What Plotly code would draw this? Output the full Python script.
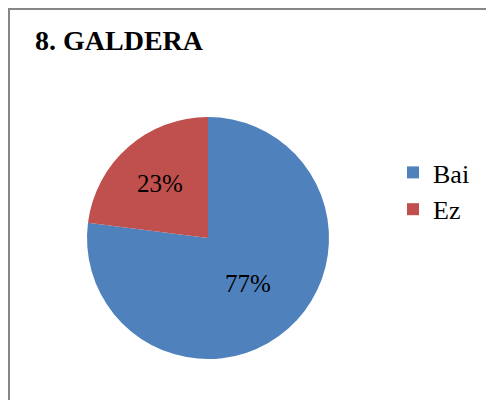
import plotly.graph_objects as go

labels = ["Bai", "Ez"]
values = [77, 23]
colors = ["#4F81BD", "#C0504D"]
title_text = "8. GALDERA"

# The page body has an 8px margin, so the figure is drawn 8px in from the window edges.
W, H = 486, 392
FONT = "Times New Roman"

fig = go.Figure(go.Pie(
    labels=labels,
    values=values,
    marker=dict(colors=colors, line=dict(width=0)),
    sort=False,
    direction="clockwise",
    rotation=0,
    textinfo="percent",
    texttemplate="%{percent:.0%}",
    textposition="inside",
    insidetextorientation="horizontal",
    textfont=dict(family=FONT, size=25, color="black"),
    domain=dict(x=[79 / W, 321 / W], y=[(H - 351) / H, (H - 109) / H]),
    hoverinfo="label+percent",
))

fig.update_layout(
    width=W, height=H,
    margin=dict(l=0, r=0, t=0, b=0),
    paper_bgcolor="white",
    plot_bgcolor="white",
    title=dict(text="<b>" + title_text + "</b>", x=27 / W, xanchor="left",
               y=1 - 22 / H, yanchor="top",
               font=dict(family=FONT, size=28, color="black")),
    legend=dict(x=385 / W, xanchor="left", y=1 - 141 / H, yanchor="top",
                font=dict(family=FONT, size=26, color="black"),
                bgcolor="rgba(0,0,0,0)", itemwidth=30, tracegroupgap=0),
    shapes=[dict(type="rect", xref="paper", yref="paper",
                 x0=1 / W, x1=1.05, y0=-0.05, y1=1 - 1 / H,
                 line=dict(color="#868686", width=2))],
)

fig.write_html("out.html")
